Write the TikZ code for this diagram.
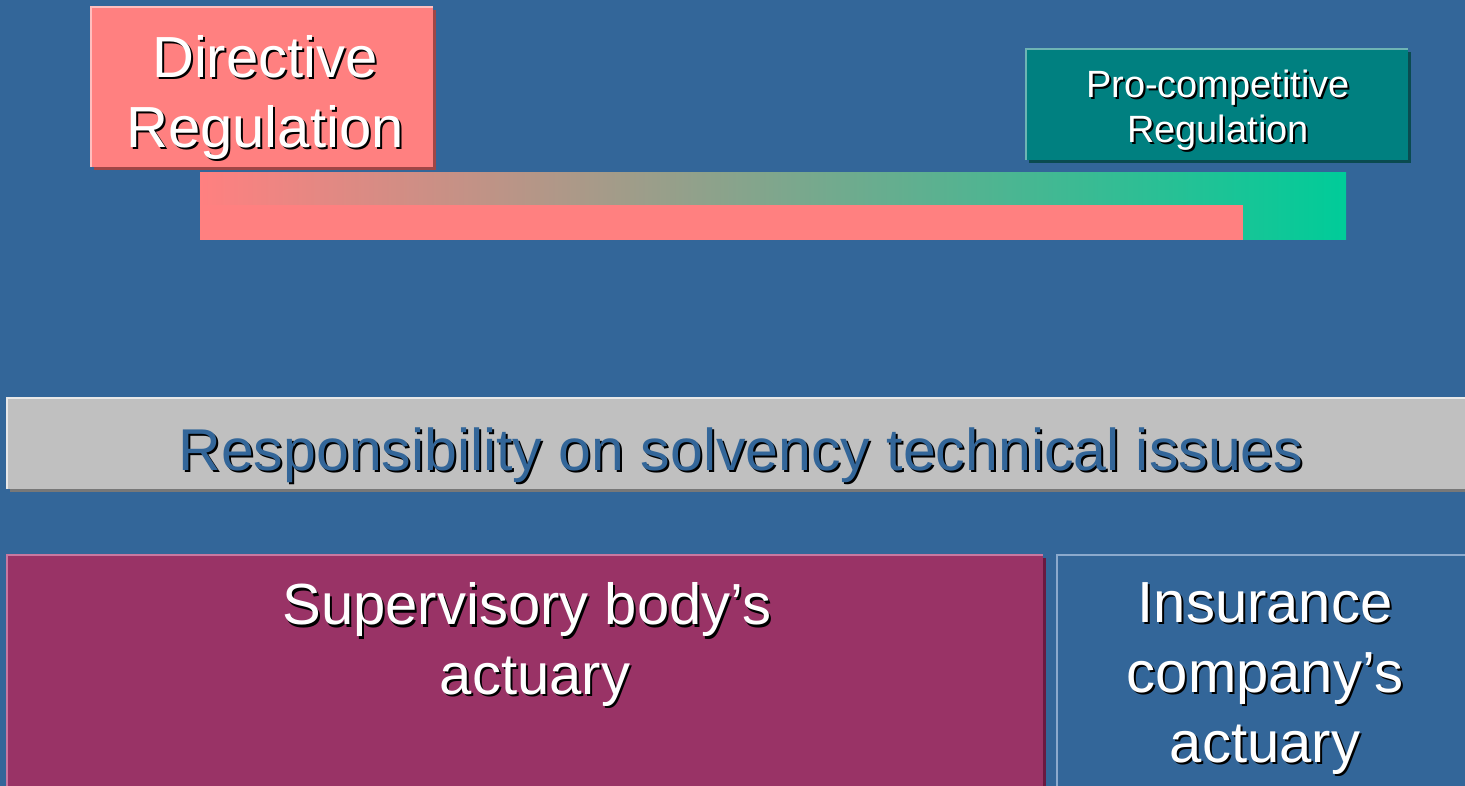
\documentclass[tikz,border=0pt]{standalone}
\usepackage{fontspec}
\setmainfont{Liberation Sans}
\usepackage{tikz}
\usetikzlibrary{positioning,calc,shadows}
\definecolor{SlideBlue}{RGB}{51,102,153}
\definecolor{SalmonRed}{RGB}{255,128,128}
\definecolor{SalmonDark}{RGB}{160,70,70}
\definecolor{SalmonLight}{RGB}{255,190,190}
\definecolor{TealBox}{RGB}{0,128,128}
\definecolor{TealDark}{RGB}{10,75,80}
\definecolor{TealLight}{RGB}{110,180,180}
\definecolor{SeaGreen}{RGB}{0,204,153}
\definecolor{BarGray}{RGB}{192,192,192}
\definecolor{BarDark}{RGB}{120,120,120}
\definecolor{BarLight}{RGB}{232,232,232}
\definecolor{Plum}{RGB}{153,51,102}
\definecolor{PlumDark}{RGB}{105,25,65}
\definecolor{PlumLight}{RGB}{200,120,160}
\definecolor{EdgeBlue}{RGB}{140,170,205}
\tikzset{
  panel/.style={rectangle,anchor=north west,inner sep=0pt,outer sep=0pt},
  cast/.style={drop shadow={fill=#1,opacity=1,shadow xshift=3pt,shadow yshift=-3pt}},
  rim/.style={draw=#1,line width=1.5pt},
  big/.style={font=\fontsize{58}{70}\selectfont,align=center,text=white,inner sep=0pt},
  mid/.style={font=\fontsize{58}{70}\selectfont,align=center,text=white,inner sep=0pt},
  small/.style={font=\fontsize{38}{45}\selectfont,align=center,text=white,inner sep=0pt},
}
% text with a black drop shadow: name, position, style, text
\newcommand{\shadowlabel}[4]{%
  \node[#3,text=black,xshift=2pt,yshift=-2pt] (#1-sh) at #2 {#4};
  \node[#3] (#1) at #2 {#4};}

\begin{document}
\begin{tikzpicture}[x=1pt,y=-1pt]
\useasboundingbox (0,0) rectangle (1465,786);
\fill[SlideBlue] (0,0) rectangle (1465,786);

% regulation scale
\shade[left color=SalmonRed,right color=SeaGreen] (200,173) rectangle (1346,240);
\fill[SalmonRed] (200,205) rectangle (1243,240);

\node[panel,fill=SalmonRed,cast=SalmonDark,minimum width=342pt,minimum height=160pt] (dirbox) at (91,7) {};
\draw[rim=SalmonLight] (dirbox.south west) -- (dirbox.north west) -- (dirbox.north east);
\shadowlabel{dir}{(265,98)}{big}{Directive\\Regulation}

\node[panel,fill=TealBox,cast=TealDark,minimum width=382pt,minimum height=111pt] (probox) at (1026,49) {};
\draw[rim=TealLight] (probox.south west) -- (probox.north west) -- (probox.north east);
\shadowlabel{pro}{(1218,110)}{small}{Pro-competitive\\Regulation}

% responsibility bar
\node[panel,fill=BarGray,cast=BarDark,minimum width=1470pt,minimum height=91pt] (resp) at (7,398) {};
\draw[rim=BarLight] (resp.south west) -- (resp.north west) -- (resp.north east);
\shadowlabel{resptext}{(741,470)}{mid,font=\fontsize{59}{70}\selectfont,anchor=base,text=SlideBlue}{Responsibility on solvency technical issues}

% actuaries
\node[panel,fill=Plum,cast=PlumDark,minimum width=1036pt,minimum height=240pt] (supbox) at (7,555) {};
\draw[rim=PlumLight] (supbox.south west) -- (supbox.north west) -- (supbox.north east);
\shadowlabel{sup}{(527,645)}{mid}{Supervisory body’s\\\hspace*{16pt}actuary}

\node[panel,fill=SlideBlue,minimum width=420pt,minimum height=240pt] (insbox) at (1057,555) {};
\draw[rim=EdgeBlue] (insbox.south west) -- (insbox.north west) -- (insbox.north east);
\shadowlabel{ins}{(1265,679)}{mid}{Insurance\\company’s\\actuary}
\end{tikzpicture}
\end{document}
